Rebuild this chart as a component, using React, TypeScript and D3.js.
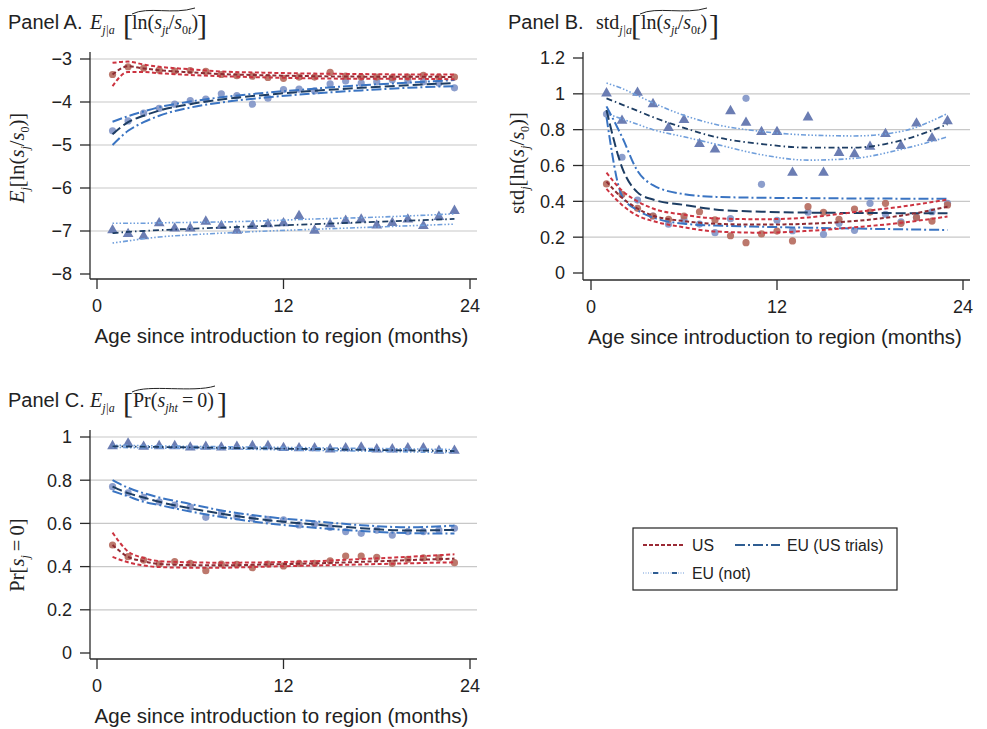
import React from 'react';
import * as d3 from 'd3';

const SANS = '"Liberation Sans", Arial, Helvetica, sans-serif';
const SERIF = '"Liberation Serif", "Times New Roman", serif';

// months with observed points, and months where the fitted curves are read
const MONTHS = [1, 2, 3, 4, 5, 6, 7, 8, 9, 10, 11, 12, 13, 14, 15, 16, 17, 18, 19, 20, 21, 22, 23];
const FIT_X = [1, 2, 3, 4, 6, 8, 11, 14, 17, 20, 23];
const X_TICKS = [0, 12, 24];

// Panel A: E[ln(s/s0)]
const A_US_PTS = [-3.36, -3.18, -3.21, -3.26, -3.28, -3.27, -3.29, -3.36, -3.39, -3.4, -3.43, -3.45, -3.42, -3.42, -3.31, -3.4, -3.42, -3.42, -3.43, -3.42, -3.38, -3.42, -3.42];
const A_EUT_PTS = [-4.67, -4.44, -4.26, -4.15, -4.05, -3.97, -3.93, -3.81, -3.85, -4.05, -3.91, -3.71, -3.7, -3.74, -3.58, -3.51, -3.56, -3.53, -3.48, -3.5, -3.53, -3.56, -3.67];
const A_EUN_PTS = [-6.98, -7.07, -7.12, -6.82, -6.94, -6.94, -6.78, -6.88, -6.99, -6.88, -6.84, -6.82, -6.65, -6.99, -6.84, -6.76, -6.73, -6.87, -6.81, -6.73, -6.88, -6.67, -6.53];
const A_US_FIT = [-3.36, -3.17, -3.22, -3.26, -3.31, -3.35, -3.38, -3.4, -3.41, -3.41, -3.42];
const A_US_HI = [-3.09, -3.06, -3.13, -3.18, -3.24, -3.29, -3.32, -3.34, -3.35, -3.36, -3.36];
const A_US_LO = [-3.63, -3.3, -3.3, -3.33, -3.37, -3.4, -3.43, -3.45, -3.46, -3.46, -3.47];
const A_EUT_FIT = [-4.75, -4.47, -4.32, -4.2, -4.05, -3.94, -3.83, -3.74, -3.67, -3.61, -3.56];
const A_EUT_HI = [-4.46, -4.33, -4.22, -4.12, -3.99, -3.89, -3.78, -3.69, -3.61, -3.55, -3.49];
const A_EUT_LO = [-5.0, -4.67, -4.47, -4.32, -4.13, -4.01, -3.89, -3.8, -3.73, -3.67, -3.63];
const A_EUN_FIT = [-7.05, -7.02, -7.0, -6.98, -6.95, -6.92, -6.88, -6.84, -6.8, -6.76, -6.72];
const A_EUN_HI = [-6.82, -6.82, -6.82, -6.81, -6.8, -6.79, -6.76, -6.72, -6.69, -6.65, -6.6];
const A_EUN_LO = [-7.28, -7.23, -7.18, -7.14, -7.09, -7.05, -7.0, -6.96, -6.92, -6.88, -6.84];
const A_TICKS = [-3, -4, -5, -6, -7, -8];
const A_LABELS = ['\u22123', '\u22124', '\u22125', '\u22126', '\u22127', '\u22128'];

// Panel B: std[ln(s/s0)]
const B_US_PTS = [0.497, 0.439, 0.361, 0.318, 0.3, 0.318, 0.342, 0.296, 0.208, 0.169, 0.218, 0.234, 0.179, 0.37, 0.339, 0.3, 0.357, 0.34, 0.389, 0.277, 0.31, 0.29, 0.38];
const B_EUT_PTS = [0.887, 0.646, 0.407, 0.318, 0.272, 0.296, 0.273, 0.225, 0.303, 0.975, 0.495, 0.294, 0.236, 0.339, 0.216, 0.277, 0.238, 0.389, 0.328, 0.286, 0.309, 0.342, 0.389];
const B_EUN_PTS = [1.003, 0.85, 1.006, 0.943, 0.81, 0.854, 0.72, 0.69, 0.904, 0.839, 0.787, 0.787, 0.56, 0.869, 0.56, 0.671, 0.664, 0.705, 0.776, 0.709, 0.835, 0.752, 0.848];
const B_US_FIT = [0.51, 0.42, 0.36, 0.32, 0.29, 0.275, 0.27, 0.275, 0.29, 0.32, 0.37];
const B_US_HI = [0.56, 0.46, 0.4, 0.36, 0.325, 0.305, 0.3, 0.31, 0.34, 0.37, 0.41];
const B_US_LO = [0.47, 0.38, 0.32, 0.29, 0.255, 0.232, 0.225, 0.235, 0.255, 0.28, 0.315];
const B_EUT_FIT = [0.91, 0.59, 0.45, 0.41, 0.38, 0.355, 0.342, 0.337, 0.335, 0.334, 0.333];
const B_EUT_HI = [0.93, 0.76, 0.57, 0.49, 0.44, 0.425, 0.42, 0.418, 0.416, 0.415, 0.414];
const B_EUT_LO = [0.87, 0.43, 0.35, 0.31, 0.275, 0.265, 0.258, 0.253, 0.248, 0.244, 0.24];
const B_EUN_FIT = [0.975, 0.94, 0.905, 0.87, 0.81, 0.76, 0.72, 0.7, 0.7, 0.74, 0.83];
const B_EUN_HI = [1.06, 1.03, 0.99, 0.95, 0.88, 0.83, 0.79, 0.77, 0.765, 0.79, 0.89];
const B_EUN_LO = [0.89, 0.86, 0.83, 0.8, 0.76, 0.72, 0.66, 0.63, 0.64, 0.69, 0.76];
const B_TICKS = [0, 0.2, 0.4, 0.6, 0.8, 1, 1.2];
const B_LABELS = ['0', '0.2', '0.4', '0.6', '0.8', '1', '1.2'];

// Panel C: Pr(s = 0)
const C_US_PTS = [0.5, 0.446, 0.43, 0.412, 0.423, 0.415, 0.381, 0.412, 0.41, 0.395, 0.412, 0.403, 0.415, 0.415, 0.427, 0.449, 0.449, 0.443, 0.415, 0.434, 0.44, 0.44, 0.418];
const C_EUT_PTS = [0.77, 0.742, 0.721, 0.7, 0.685, 0.675, 0.628, 0.647, 0.631, 0.624, 0.619, 0.616, 0.593, 0.597, 0.582, 0.562, 0.554, 0.569, 0.546, 0.562, 0.562, 0.569, 0.577];
const C_EUN_PTS = [0.958, 0.97, 0.955, 0.958, 0.958, 0.952, 0.955, 0.952, 0.955, 0.958, 0.958, 0.949, 0.948, 0.948, 0.943, 0.948, 0.952, 0.943, 0.943, 0.948, 0.948, 0.937, 0.937];
const C_US_FIT = [0.5, 0.445, 0.425, 0.412, 0.407, 0.406, 0.41, 0.415, 0.422, 0.43, 0.437];
const C_US_HI = [0.557, 0.47, 0.44, 0.425, 0.42, 0.418, 0.42, 0.425, 0.435, 0.445, 0.457];
const C_US_LO = [0.445, 0.42, 0.405, 0.398, 0.395, 0.395, 0.4, 0.405, 0.41, 0.415, 0.42];
const C_EUT_FIT = [0.77, 0.74, 0.72, 0.7, 0.67, 0.645, 0.615, 0.595, 0.578, 0.567, 0.57];
const C_EUT_HI = [0.8, 0.765, 0.74, 0.72, 0.69, 0.66, 0.63, 0.61, 0.592, 0.582, 0.59];
const C_EUT_LO = [0.75, 0.725, 0.7, 0.685, 0.655, 0.63, 0.6, 0.58, 0.565, 0.555, 0.553];
const C_EUN_FIT = [0.957, 0.956, 0.955, 0.954, 0.952, 0.95, 0.947, 0.944, 0.941, 0.938, 0.935];
const C_EUN_HI = [0.962, 0.961, 0.96, 0.959, 0.957, 0.955, 0.953, 0.95, 0.947, 0.945, 0.942];
const C_EUN_LO = [0.952, 0.951, 0.95, 0.949, 0.947, 0.945, 0.942, 0.938, 0.935, 0.931, 0.928];
const C_TICKS = [0, 0.2, 0.4, 0.6, 0.8, 1];
const C_LABELS = ['0', '0.2', '0.4', '0.6', '0.8', '1'];

const LEGEND = ['US', 'EU (US trials)', 'EU (not)'];

const STYLE: any = {
  US: {
    bound: { stroke: '#cc3340', dash: '4,2.5', w: 2 },
    center: { stroke: '#8e2b33', dash: '4,2.5', w: 2 },
    pt: '#b5695c', shape: 'circle',
  },
  EUT: {
    bound: { stroke: '#3a74c2', dash: '10,3,2,3', w: 2 },
    center: { stroke: '#1d3d63', dash: '10,4', w: 2 },
    pt: '#7f93c6', shape: 'circle',
  },
  EUN: {
    bound: { stroke: '#6f9edb', dash: '1.5,2,1.5,2,1.5,2,5,2', w: 1.6 },
    center: { stroke: '#1d3d63', dash: '6,3,1.5,3', w: 1.8 },
    pt: '#6b7db3', shape: 'triangle',
  },
};

const GRID = '#c8c8c8';
const AXIS = '#2b2b2b';
const TICK_FS = 18;
const TITLE_FS = 20.5;

function Panel({ cfg, series }: any) {
  const x = d3.scaleLinear().domain([0, 24]).range([cfg.x0, cfg.x24]);
  const y = d3.scaleLinear().domain(cfg.yDom).range(cfg.yPx);
  const line = d3.line<number>()
    .x((_, i) => x(FIT_X[i]))
    .y((d) => y(d))
    .curve(d3.curveMonotoneX);
  const tri = d3.symbol(d3.symbolTriangle, 50)();

  return (
    <g>
      {cfg.ticks.map((t: number, i: number) =>
        cfg.grid.includes(t) ? (
          <line key={'g' + i} x1={cfg.axisX} x2={cfg.right} y1={y(t)} y2={y(t)} stroke={GRID} strokeWidth={1.2} />
        ) : null
      )}
      {/* points */}
      {series.map((s: any) => (
        <g key={'p' + s.key}>
          {s.pts.map((v: number, i: number) =>
            STYLE[s.key].shape === 'circle' ? (
              <circle key={i} cx={x(MONTHS[i])} cy={y(v)} r={3.6} fill={STYLE[s.key].pt} fillOpacity={0.9} />
            ) : (
              <path key={i} d={tri as string} transform={`translate(${x(MONTHS[i])},${y(v)})`} fill={STYLE[s.key].pt} />
            )
          )}
        </g>
      ))}
      {/* fitted curves with bands */}
      {series.map((s: any) => {
        const st = STYLE[s.key];
        return (
          <g key={'l' + s.key} fill="none">
            {[s.lo, s.hi].map((arr: number[], j: number) => (
              <path key={j} d={line(arr) as string} stroke={st.bound.stroke} strokeWidth={st.bound.w} strokeDasharray={st.bound.dash} />
            ))}
            <path d={line(s.fit) as string} stroke={st.center.stroke} strokeWidth={st.center.w} strokeDasharray={st.center.dash} />
          </g>
        );
      })}
      {/* y axis */}
      <line x1={cfg.axisX} x2={cfg.axisX} y1={cfg.axisTop} y2={cfg.axisBottom} stroke={AXIS} strokeWidth={1.3} />
      {cfg.ticks.map((t: number, i: number) => (
        <g key={'yt' + i}>
          <line x1={cfg.axisX - 10} x2={cfg.axisX} y1={y(t)} y2={y(t)} stroke={AXIS} strokeWidth={1.3} />
          <text x={cfg.axisX - 18} y={y(t)} dy="0.36em" textAnchor="end" fontFamily={SANS} fontSize={TICK_FS} fill="#222">
            {cfg.labels[i]}
          </text>
        </g>
      ))}
      {/* x axis */}
      <line x1={cfg.axisX} x2={cfg.right} y1={cfg.axisBottom} y2={cfg.axisBottom} stroke={AXIS} strokeWidth={1.3} />
      {X_TICKS.map((t) => (
        <g key={'xt' + t}>
          <line x1={x(t)} x2={x(t)} y1={cfg.axisBottom} y2={cfg.axisBottom + 10} stroke={AXIS} strokeWidth={1.3} />
          <text x={x(t)} y={cfg.axisBottom + 33} textAnchor="middle" fontFamily={SANS} fontSize={TICK_FS} fill="#222">
            {t}
          </text>
        </g>
      ))}
      <text x={(cfg.x0 + cfg.x24) / 2 - 2} y={cfg.axisBottom + 64} textAnchor="middle" fontFamily={SANS} fontSize={TITLE_FS} fill="#222">
        Age since introduction to region (months)
      </text>
    </g>
  );
}

const SUB = 5;

function LnRatio({ x, y }: any) {
  // ln(s_jt / s_0t)
  return (
    <text x={x} y={y} fontFamily={SERIF} fontSize={20} fill="#222">
      ln(
      <tspan fontStyle="italic">s</tspan>
      <tspan fontStyle="italic" fontSize={12} dy={SUB}>jt</tspan>
      <tspan dy={-SUB}>/</tspan>
      <tspan fontStyle="italic">s</tspan>
      <tspan fontSize={12} dy={SUB}>0</tspan>
      <tspan fontStyle="italic" fontSize={12}>t</tspan>
      <tspan dy={-SUB}>)</tspan>
    </text>
  );
}

function Bracketed({ x, y, w, children }: any) {
  return (
    <g>
      <text x={x} y={y + 6} fontFamily={SERIF} fontSize={30} fill="#222">[</text>
      {children}
      <path d={`M${x + 9},${y - 15} C${x + 25},${y - 23} ${x + w - 20},${y - 14} ${x + w + 2},${y - 21}`} fill="none" stroke="#222" strokeWidth={1} />
      <text x={x + w + 4} y={y + 6} fontFamily={SERIF} fontSize={30} fill="#222">]</text>
    </g>
  );
}

function Legend() {
  const sample = (k: string, x1: number, x2: number, yy: number) => {
    if (k === 'EUN') {
      return (
        <g>
          <line x1={x1} x2={x2} y1={yy} y2={yy} stroke="#9fbde6" strokeWidth={1.5} strokeDasharray="1,1.5" />
          <line x1={x1} x2={x2} y1={yy} y2={yy} stroke="#2f5d92" strokeWidth={2} strokeDasharray="0,10,5,4" />
        </g>
      );
    }
    return <line x1={x1} x2={x2} y1={yy} y2={yy} stroke={k === 'US' ? '#9b2a35' : '#2f5d92'} strokeWidth={2} strokeDasharray={k === 'US' ? '4,2' : '10,3,2,3'} />;
  };
  const fs = 15.8;
  return (
    <g>
      <rect x={633} y={528} width={264} height={62} fill="white" stroke="#222" strokeWidth={1.2} />
      {sample('US', 643, 684, 545)}
      <text x={692} y={545} dy="0.36em" fontFamily={SANS} fontSize={fs} fill="#222">{LEGEND[0]}</text>
      {sample('EUT', 735, 780, 545)}
      <text x={787} y={545} dy="0.36em" fontFamily={SANS} fontSize={fs} fill="#222">{LEGEND[1]}</text>
      {sample('EUN', 643, 684, 573)}
      <text x={692} y={573} dy="0.36em" fontFamily={SANS} fontSize={fs} fill="#222">{LEGEND[2]}</text>
    </g>
  );
}

export default function App() {
  const cfgA = {
    axisX: 90, axisTop: 52, axisBottom: 279, right: 477, x0: 97, x24: 470,
    yDom: [-3, -8], yPx: [59, 274], ticks: A_TICKS, labels: A_LABELS, grid: [-3, -4, -5, -6, -7],
  };
  const cfgB = {
    axisX: 583, axisTop: 52, axisBottom: 280, right: 970, x0: 591, x24: 963,
    yDom: [0, 1.2], yPx: [273, 58], ticks: B_TICKS, labels: B_LABELS, grid: [0.2, 0.4, 0.6, 0.8, 1],
  };
  const cfgC = {
    axisX: 90, axisTop: 430, axisBottom: 659, right: 477, x0: 97, x24: 470,
    yDom: [0, 1], yPx: [653, 437], ticks: C_TICKS, labels: C_LABELS, grid: [0.2, 0.4, 0.6, 0.8, 1],
  };

  const seriesA = [
    { key: 'EUN', pts: A_EUN_PTS, fit: A_EUN_FIT, lo: A_EUN_LO, hi: A_EUN_HI },
    { key: 'EUT', pts: A_EUT_PTS, fit: A_EUT_FIT, lo: A_EUT_LO, hi: A_EUT_HI },
    { key: 'US', pts: A_US_PTS, fit: A_US_FIT, lo: A_US_LO, hi: A_US_HI },
  ];
  const seriesB = [
    { key: 'EUN', pts: B_EUN_PTS, fit: B_EUN_FIT, lo: B_EUN_LO, hi: B_EUN_HI },
    { key: 'EUT', pts: B_EUT_PTS, fit: B_EUT_FIT, lo: B_EUT_LO, hi: B_EUT_HI },
    { key: 'US', pts: B_US_PTS, fit: B_US_FIT, lo: B_US_LO, hi: B_US_HI },
  ];
  const seriesC = [
    { key: 'EUN', pts: C_EUN_PTS, fit: C_EUN_FIT, lo: C_EUN_LO, hi: C_EUN_HI },
    { key: 'EUT', pts: C_EUT_PTS, fit: C_EUT_FIT, lo: C_EUT_LO, hi: C_EUT_HI },
    { key: 'US', pts: C_US_PTS, fit: C_US_FIT, lo: C_US_LO, hi: C_US_HI },
  ];

  return (
    <svg width={987} height={729} style={{ position: 'absolute', left: 0, top: 0, background: 'white' }}>
      <rect width={987} height={729} fill="white" />

      {/* Panel titles */}
      <text x={8} y={29} fontFamily={SANS} fontSize={20} fill="#222">Panel A.</text>
      <text x={90} y={29} fontFamily={SERIF} fontSize={20} fill="#222">
        <tspan fontStyle="italic">E</tspan>
        <tspan fontStyle="italic" fontSize={12} dy={SUB}>j|a</tspan>
      </text>
      <Bracketed x={123} y={29} w={70}>
        <LnRatio x={132} y={29} />
      </Bracketed>

      <text x={508} y={29} fontFamily={SANS} fontSize={20} fill="#222">Panel B.</text>
      <text x={596} y={29} fontFamily={SERIF} fontSize={20} fill="#222">
        std
        <tspan fontStyle="italic" fontSize={12} dy={SUB}>j|a</tspan>
      </text>
      <Bracketed x={631} y={29} w={74}>
        <LnRatio x={641} y={29} />
      </Bracketed>

      <text x={8} y={407} fontFamily={SANS} fontSize={20} fill="#222">Panel C.</text>
      <text x={90} y={407} fontFamily={SERIF} fontSize={20} fill="#222">
        <tspan fontStyle="italic">E</tspan>
        <tspan fontStyle="italic" fontSize={12} dy={SUB}>j|a</tspan>
      </text>
      <Bracketed x={123} y={407} w={90}>
        <text x={133} y={407} fontFamily={SERIF} fontSize={20} fill="#222">
          Pr(
          <tspan fontStyle="italic">s</tspan>
          <tspan fontStyle="italic" fontSize={12} dy={SUB}>jht</tspan>
          <tspan dy={-SUB}>{'\u2009=\u20090)'}</tspan>
        </text>
      </Bracketed>

      {/* y-axis titles */}
      <text transform="translate(24,158) rotate(-90)" textAnchor="middle" fontFamily={SERIF} fontSize={20.5} fill="#222">
        <tspan fontStyle="italic">E</tspan>
        <tspan fontStyle="italic" fontSize={12} dy={SUB}>j</tspan>
        <tspan dy={-SUB}>[ln(</tspan>
        <tspan fontStyle="italic">s</tspan>
        <tspan fontStyle="italic" fontSize={12} dy={SUB}>j</tspan>
        <tspan dy={-SUB}>/</tspan>
        <tspan fontStyle="italic">s</tspan>
        <tspan fontSize={12} dy={SUB}>0</tspan>
        <tspan dy={-SUB}>)]</tspan>
      </text>
      <text transform="translate(524,163) rotate(-90)" textAnchor="middle" fontFamily={SERIF} fontSize={20.5} fill="#222">
        std
        <tspan fontStyle="italic" fontSize={12} dy={SUB}>j</tspan>
        <tspan dy={-SUB}>[ln(</tspan>
        <tspan fontStyle="italic">s</tspan>
        <tspan fontStyle="italic" fontSize={12} dy={SUB}>j</tspan>
        <tspan dy={-SUB}>/</tspan>
        <tspan fontStyle="italic">s</tspan>
        <tspan fontSize={12} dy={SUB}>0</tspan>
        <tspan dy={-SUB}>)]</tspan>
      </text>
      <text transform="translate(24,555) rotate(-90)" textAnchor="middle" fontFamily={SERIF} fontSize={20.5} fill="#222">
        Pr[
        <tspan fontStyle="italic">s</tspan>
        <tspan fontStyle="italic" fontSize={12} dy={SUB}>j</tspan>
        <tspan dy={-SUB}>{'\u2009=\u20090]'}</tspan>
      </text>

      <Panel cfg={cfgA} series={seriesA} />
      <Panel cfg={cfgB} series={seriesB} />
      <Panel cfg={cfgC} series={seriesC} />
      <Legend />
    </svg>
  );
}
